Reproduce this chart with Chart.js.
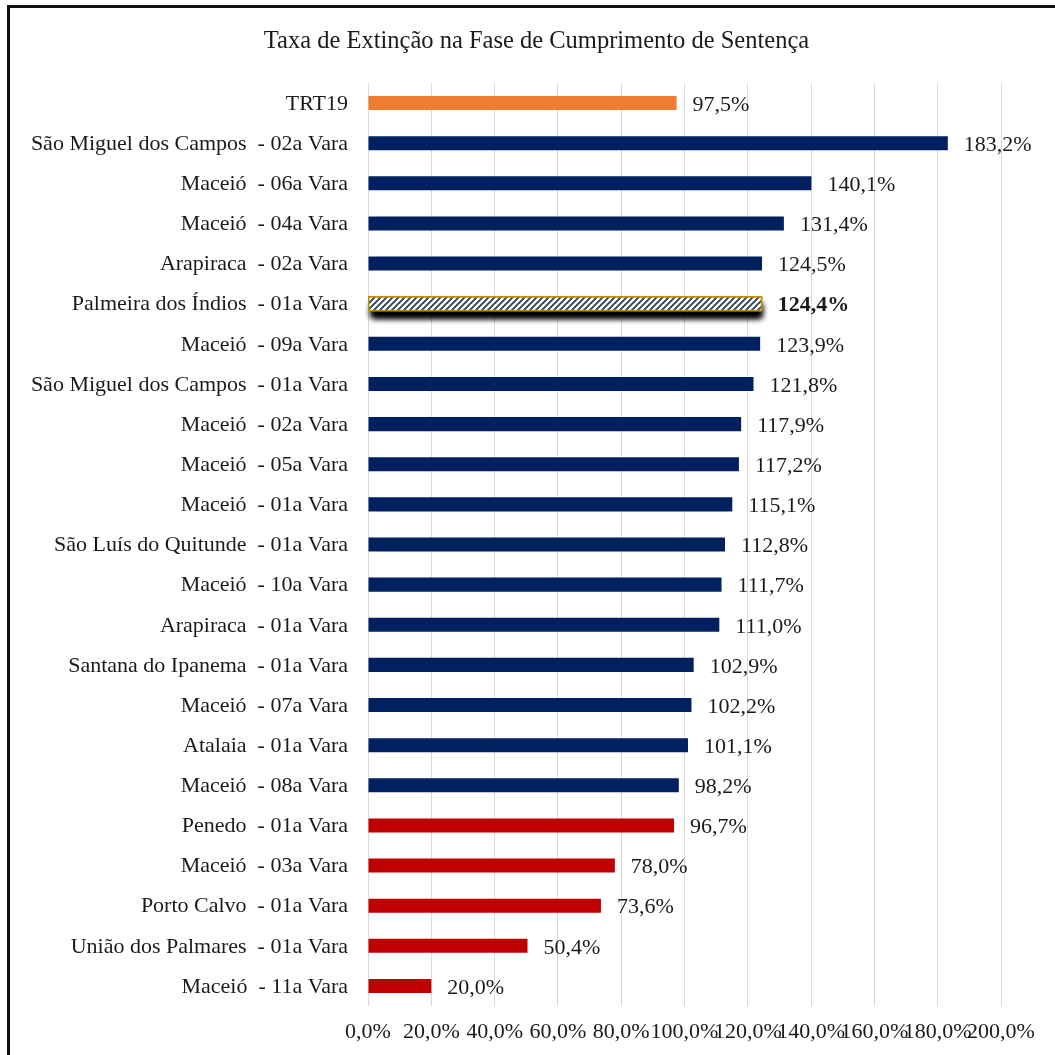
<!DOCTYPE html>
<html>
<head>
<meta charset="utf-8">
<script src="https://cdn.jsdelivr.net/npm/chart.js@4"></script>
<style>
    html, body { margin: 0; padding: 0; background: #fff; }
    #frame {
        position: absolute; left: 7px; top: 5px; width: 1200px; height: 1200px;
        border-left: 3px solid #111; border-top: 3px solid #111;
    }
    #wrap { position: absolute; left: 0; top: 0; width: 1055px; height: 1055px; }
</style>
</head>
<body>
<div id="frame"></div>
<div id="wrap"><canvas id="extincao-chart" width="1055" height="1055"></canvas></div>
<script>
const chartTitle = "Taxa de Extinção na Fase de Cumprimento de Sentença";

const varas = [
    "TRT19",
    "São Miguel dos Campos  - 02a Vara",
    "Maceió  - 06a Vara",
    "Maceió  - 04a Vara",
    "Arapiraca  - 02a Vara",
    "Palmeira dos Índios  - 01a Vara",
    "Maceió  - 09a Vara",
    "São Miguel dos Campos  - 01a Vara",
    "Maceió  - 02a Vara",
    "Maceió  - 05a Vara",
    "Maceió  - 01a Vara",
    "São Luís do Quitunde  - 01a Vara",
    "Maceió  - 10a Vara",
    "Arapiraca  - 01a Vara",
    "Santana do Ipanema  - 01a Vara",
    "Maceió  - 07a Vara",
    "Atalaia  - 01a Vara",
    "Maceió  - 08a Vara",
    "Penedo  - 01a Vara",
    "Maceió  - 03a Vara",
    "Porto Calvo  - 01a Vara",
    "União dos Palmares  - 01a Vara",
    "Maceió  - 11a Vara",
];

const taxas = [
    97.5, 183.2, 140.1, 131.4, 124.5, 124.4, 123.9, 121.8, 117.9, 117.2, 115.1, 112.8,
    111.7, 111.0, 102.9, 102.2, 101.1, 98.2, 96.7, 78.0, 73.6, 50.4, 20.0,
];

const xTicks = [0, 20, 40, 60, 80, 100, 120, 140, 160, 180, 200];

const highlightName = "Palmeira dos Índios  - 01a Vara";

const FONT = "'Liberation Serif', 'Times New Roman', serif";
const TEXT_COLOR = "#1a1a1a";

const fmt = (v) => v.toFixed(1).replace(".", ",") + "%";

// hatch pattern for the highlighted vara
function makeHatch() {
    const size = 6;
    const c = document.createElement("canvas");
    c.width = size;
    c.height = size;
    const g = c.getContext("2d");
    g.fillStyle = "#ffffff";
    g.fillRect(0, 0, size, size);
    g.strokeStyle = "#1f3864";
    g.lineWidth = 1.7;
    g.beginPath();
    g.moveTo(0, size); g.lineTo(size, 0);
    g.moveTo(-1, 1); g.lineTo(1, -1);
    g.moveTo(size - 1, size + 1); g.lineTo(size + 1, size - 1);
    g.stroke();
    return g.createPattern(c, "repeat");
}

const ctx = document.getElementById("extincao-chart").getContext("2d");
const hatch = makeHatch();
const highlightIndex = varas.indexOf(highlightName);
const trt = taxas[0];

const barColors = taxas.map((v, i) => {
    if (i === 0) return "#ed7d31"; // TRT19 reference
    if (i === highlightIndex) return hatch;
    return v < trt ? "#c00000" : "#002060";
});

// title drawn by hand: it is centred a bit right of the canvas centre
const titlePlugin = {
    id: "manualTitle",
    afterDraw(chart) {
        const c = chart.ctx;
        c.save();
        c.fillStyle = TEXT_COLOR;
        c.font = `24.5px ${FONT}`;
        c.textAlign = "center";
        c.textBaseline = "middle";
        c.fillText(chartTitle, 536.5, 42);
        c.restore();
    },
};

// shadow under the highlighted bar
const shadowPlugin = {
    id: "barShadow",
    beforeDatasetsDraw(chart) {
        const el = chart.getDatasetMeta(0).data[highlightIndex];
        if (!el) return;
        const p = el.getProps(["x", "y", "base", "height"], true);
        const c = chart.ctx;
        c.save();
        c.shadowColor = "rgba(0, 0, 0, 1)";
        c.shadowBlur = 6;
        c.shadowOffsetY = 7;
        c.shadowOffsetX = 1;
        c.fillStyle = "#fff";
        c.fillRect(p.base + 2, p.y - p.height / 2, p.x - p.base - 3, p.height);
        c.fillRect(p.base + 2, p.y - p.height / 2, p.x - p.base - 3, p.height);
        c.restore();
    },
};

// value labels at the end of each bar
const valueLabels = {
    id: "valueLabels",
    afterDatasetsDraw(chart) {
        const c = chart.ctx;
        const meta = chart.getDatasetMeta(0);
        c.save();
        c.fillStyle = TEXT_COLOR;
        c.textAlign = "left";
        c.textBaseline = "middle";
        meta.data.forEach((bar, i) => {
            const bold = i === highlightIndex ? "bold " : "";
            c.font = `${bold}22px ${FONT}`;
            c.fillText(fmt(taxas[i]), bar.x + 16, bar.y + 2);
        });
        c.restore();
    },
};

new Chart(ctx, {
    type: "bar",
    data: {
        labels: varas,
        datasets: [
            {
                data: taxas,
                backgroundColor: barColors,
                borderColor: taxas.map((v, i) => (i === highlightIndex ? "#bf9000" : "rgba(0,0,0,0)")),
                borderWidth: taxas.map((v, i) => (i === highlightIndex ? 2 : 0)),
                inflateAmount: taxas.map((v, i) => (i === highlightIndex ? 1 : 0)),
                borderSkipped: false,
                categoryPercentage: 1,
                barPercentage: 0.35,
            },
        ],
    },
    options: {
        indexAxis: "y",
        responsive: false,
        animation: false,
        layout: {
            padding: { left: 0, right: 54, top: 83, bottom: 0 },
        },
        plugins: {
            legend: { display: false },
            tooltip: { enabled: false },
            title: { display: false },
        },
        scales: {
            x: {
                min: 0,
                max: 200,
                afterBuildTicks: (scale) => {
                    scale.ticks = xTicks.map((v) => ({ value: v }));
                },
                afterFit: (scale) => {
                    scale.height = 49;
                },
                grid: {
                    display: true,
                    color: "#d9d9d9",
                    lineWidth: 1,
                    drawTicks: false,
                },
                border: { display: false },
                ticks: {
                    autoSkip: false,
                    maxRotation: 0,
                    minRotation: 0,
                    padding: 13,
                    color: TEXT_COLOR,
                    font: { family: FONT, size: 22 },
                    callback: (value) => fmt(value),
                },
            },
            y: {
                afterFit: (scale) => {
                    scale.width = 368;
                },
                grid: { display: false, drawTicks: false },
                border: { display: false },
                ticks: {
                    autoSkip: false,
                    padding: 20,
                    labelOffset: 1,
                    color: TEXT_COLOR,
                    font: { family: FONT, size: 22 },
                },
            },
        },
    },
    plugins: [titlePlugin, shadowPlugin, valueLabels],
});
</script>
</body>
</html>
